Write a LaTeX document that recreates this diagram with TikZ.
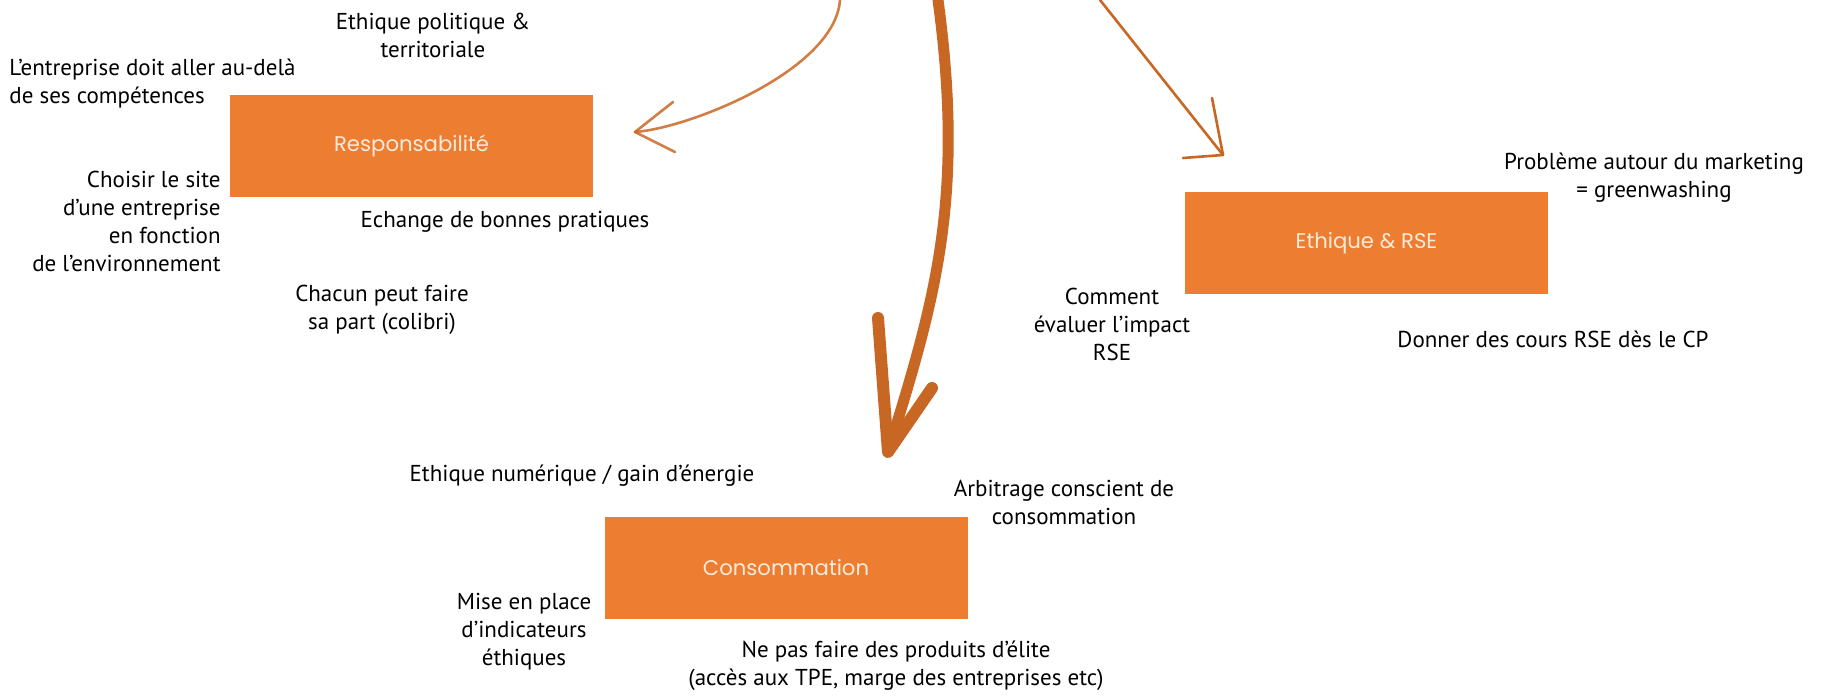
\documentclass[tikz,border=0pt]{standalone}
\usepackage{fontspec}
\setmainfont{PT Sans}
\newfontfamily\boxfont{Poppins}
\definecolor{boxorange}{RGB}{237,125,49}
\definecolor{boxtext}{RGB}{252,234,218}
\definecolor{arrowbrown}{RGB}{200,103,36}

\begin{document}
\begin{tikzpicture}[x=0.5pt,y=-0.5pt,
        theme/.style={fill=boxorange, minimum width=181.5pt, minimum height=51pt, inner sep=0pt,
            text=boxtext, font=\boxfont\fontsize{10.6}{12}\selectfont},
        note/.style={inner sep=0pt, align=center, font=\fontsize{11.5}{14}\selectfont},
        thinarrow/.style={draw=arrowbrown, line width=1.3pt, line cap=round, line join=round},
        thickarrow/.style={draw=arrowbrown, line width=5.5pt, line cap=round, line join=round}]
            \useasboundingbox (0, 0) rectangle (1835, 699);

            % the three themes
            \node[theme] (resp) at (411.5, 146) {Responsabilité};
            \node[theme] (rse) at (1366.5, 243) {Ethique \& RSE};
            \node[theme] (conso) at (786, 568) {Consommation};

            % arrows coming in from the top
            \coordinate (lstart) at (840, 0);
            \coordinate (ltip) at (635, 132);
            \coordinate (cstart) at (938, 0);
            \coordinate (ctip) at (888, 452);
            \coordinate (rstart) at (1100, 0);
            \coordinate (rtip) at (1223, 155);
            \draw[thinarrow, draw opacity=0.85] (lstart) .. controls (835, 70) and (690, 128) .. (ltip);
            \draw[thinarrow, draw opacity=0.85] (673, 102) -- (ltip) -- (675, 152);
            \draw[thickarrow] (cstart) .. controls (965, 200) and (935, 300) .. (ctip);
            \draw[thickarrow, line width=6pt] (878, 318) -- (ctip) -- (932, 388);
            \draw[thinarrow] (rstart) -- (rtip);
            \draw[thinarrow] (1212, 98) -- (rtip) -- (1183, 158);

            % remarks round Responsabilité
            \node[note] (tpol) at (433, 35) {Ethique politique \&\\territoriale};
            \node[note, align=left, anchor=west] (taller) at (9, 84) {L’entreprise doit aller au-delà\\de ses compétences};
            \node[note, align=right, anchor=east] (tsite) at (221, 221.5) {Choisir le site\\d’une entreprise\\en fonction\\de l’environnement};
            \node[note] (techange) at (505, 222) {Echange de bonnes pratiques};
            \node[note] (tchacun) at (382, 310) {Chacun peut faire\\sa part (colibri)};

            % remarks round Ethique & RSE
            \node[note] (tmarketing) at (1654, 178) {Problème autour du marketing\\= greenwashing};
            \node[note] (tcomment) at (1112, 324) {Comment\\évaluer l’impact\\RSE};
            \node[note] (tcours) at (1553, 339) {Donner des cours RSE dès le CP};

            % remarks round Consommation
            \node[note] (tnum) at (582, 476) {Ethique numérique / gain d’énergie};
            \node[note] (tarbitrage) at (1064, 502) {Arbitrage conscient de\\consommation};
            \node[note] (tmise) at (524, 632) {Mise en place\\d’indicateurs\\éthiques};
            \node[note] (telite) at (896, 666) {Ne pas faire des produits d’élite\\(accès aux TPE, marge des entreprises etc)};
        \end{tikzpicture}
\end{document}
